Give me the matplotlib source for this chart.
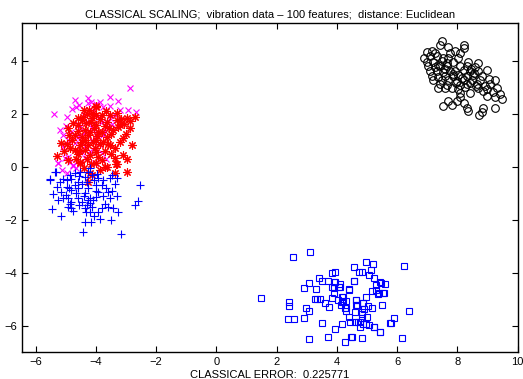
import matplotlib
matplotlib.use('Agg')
import matplotlib.pyplot as plt
import numpy as np

plt.rcParams['font.family'] = ['Liberation Sans', 'DejaVu Sans']

# blue squares (lower right cluster)
sq_x = [2.53, 3.11, 1.47, 2.41, 2.41, 2.91, 3.06, 3.30, 3.39, 3.50, 3.69, 3.85, 3.33, 3.44, 3.59,
        3.75, 2.97, 3.08, 2.91, 2.39, 2.56, 3.52, 3.92, 3.72, 3.06, 3.89, 3.89, 3.89, 3.85,
        4.96, 5.19, 6.21, 4.55, 4.72, 4.83, 5.14, 5.05, 5.22, 4.57, 5.44, 5.58, 5.29, 4.39, 4.11,
        5.16, 5.36, 5.55, 4.97, 4.16, 4.20, 4.64, 4.66, 4.86, 5.02, 5.16, 5.49, 4.91, 4.31, 4.61,
        6.38, 4.83, 4.39, 4.83, 4.99, 5.88, 5.77, 4.42, 4.69, 4.86, 5.08, 4.77, 5.22, 4.16, 5.44,
        4.50, 4.83, 6.16, 3.94, 3.94, 4.28, 4.47, 5.42, 4.20, 4.16, 4.31, 4.03, 4.12, 4.28, 4.30,
        4.64, 4.64, 4.85, 4.83, 4.61, 4.77, 4.96, 5.22, 3.28, 3.83, 4.11, 4.08, 4.39, 4.58, 5.29,
        5.47, 5.38, 5.52, 5.80]
sq_y = [-3.40, -3.20, -4.93, -5.08, -5.25, -4.55, -4.39, -4.62, -4.18, -4.30, -4.30, -3.99, -4.96, -4.96, -5.12,
        -5.27, -5.33, -5.43, -5.69, -5.75, -5.74, -5.90, -6.12, -6.40, -6.47, -4.33, -4.58, -4.77, -4.93,
        -3.57, -3.65, -3.72, -3.77, -3.95, -3.97, -3.89, -4.08, -4.18, -4.29, -4.33, -4.42, -4.45, -4.62, -4.52,
        -4.67, -4.79, -4.77, -4.89, -4.89, -5.06, -5.02, -5.21, -5.14, -5.25, -5.33, -5.21, -5.36, -5.33, -5.46,
        -5.42, -5.56, -5.67, -5.71, -5.65, -5.69, -5.89, -5.84, -5.86, -5.94, -5.96, -6.03, -6.03, -5.92, -6.24,
        -6.40, -6.44, -6.44, -3.95, -4.33, -6.59, -6.40, -6.24, -4.89, -5.08, -5.06, -5.02, -5.21, -5.33, -5.42,
        -5.02, -5.21, -5.14, -5.48, -5.84, -5.84, -5.92, -6.03, -4.96, -4.52, -4.43, -4.52, -4.64, -4.29, -4.64,
        -4.37, -4.77, -4.77, -5.87]

# black circles (upper right cluster)
ci_x = [7.48, 7.42, 7.70, 8.20, 8.23, 6.98, 7.14, 7.25, 7.75, 7.92, 8.09, 6.89, 7.09, 7.31, 7.53,
        7.70, 8.03, 6.98, 7.20, 7.48, 7.86, 8.36, 8.69, 7.03, 7.25, 7.42, 7.64, 8.09, 8.31, 8.58,
        7.09, 7.31, 7.53, 7.75, 7.92, 8.20, 8.42, 8.69, 8.97, 7.14, 7.36, 7.59, 7.86, 8.03, 8.31,
        8.53, 8.80, 7.20, 7.48, 7.70, 7.97, 8.20, 8.47, 8.75, 9.03, 9.25, 7.42, 7.64, 8.09, 8.31,
        8.64, 8.92, 9.08, 7.36, 7.59, 7.81, 8.03, 8.69, 8.97, 9.30, 8.09, 8.42, 9.19, 9.41, 8.97,
        9.25, 9.47, 8.09, 7.97, 7.70, 8.20, 8.31, 7.81, 7.51, 8.36, 8.86, 8.80, 8.73, 9.25,
        7.60, 7.85, 8.15, 8.40, 8.55, 7.35, 7.95, 8.25, 8.60, 8.85, 7.65, 8.45]
ci_y = [4.74, 4.59, 4.52, 4.59, 4.47, 4.34, 4.37, 4.30, 4.30, 4.37, 4.30, 4.11, 4.18, 4.18, 4.11,
        4.09, 4.09, 3.96, 3.96, 3.99, 3.96, 3.96, 3.92, 3.80, 3.76, 3.80, 3.80, 3.80, 3.80, 3.76,
        3.61, 3.61, 3.57, 3.61, 3.61, 3.64, 3.61, 3.61, 3.64, 3.42, 3.38, 3.42, 3.42, 3.46, 3.42,
        3.46, 3.42, 3.26, 3.26, 3.26, 3.23, 3.26, 3.26, 3.26, 3.30, 3.26, 3.11, 3.08, 3.08, 3.11,
        3.11, 3.04, 3.11, 2.96, 2.96, 2.98, 2.92, 2.98, 2.92, 2.98, 2.79, 2.79, 2.83, 2.73, 2.67,
        2.63, 2.57, 2.63, 2.48, 2.48, 2.41, 2.23, 2.35, 2.31, 2.10, 2.23, 2.07, 1.95, 2.23,
        3.70, 3.50, 3.35, 3.15, 3.55, 3.85, 3.15, 3.00, 3.05, 2.85, 3.90, 3.70]

# magenta crosses
mx_x = [-2.87, -4.70, -4.25, -3.53, -3.26, -4.67, -4.25, -3.98, -3.75, -3.53, -2.92, -2.68, -5.38,
        -4.94, -3.37, -3.53, -5.19, -5.08, -4.81, -4.14, -3.75, -4.92, -4.59, -4.14, -4.92, -5.03,
        -5.27, -4.75, -4.03, -4.47, -4.36, -4.03, -3.81, -4.25, -3.81, -3.64, -4.53, -5.27, -5.12,
        -4.94, -4.77,
        -4.40, -4.10, -3.90, -4.60, -4.35, -3.70, -4.00, -4.70, -4.20, -3.90, -4.50, -3.45,
        -3.20, -4.80, -4.55, -3.85, -4.15, -5.00, -4.85, -4.65, -4.35, -3.65, -5.10, -4.05]
mx_y = [2.99, 2.53, 2.59, 2.62, 2.49, 2.24, 2.40, 2.36, 2.24, 2.28, 2.15, 2.06, 1.99,
        1.87, 1.96, 1.84, 1.40, 1.21, 1.33, 1.46, 1.21, 1.02, 1.14, 1.02, 0.39, 0.33,
        0.14, 0.08, 0.14, 0.58, 0.77, 0.70, 0.52, 1.71, 1.71, 1.52, 1.52, 0.14, -0.11,
        -0.24, 0.04,
        1.95, 2.10, 1.90, 1.60, 1.30, 1.35, 1.25, 0.90, 0.60, 0.85, 1.15, 1.60,
        2.15, 2.20, 2.35, 2.45, 2.45, 1.55, 0.20, -0.05, 0.35, 0.30, 0.75, 1.60]

# red asterisks
st_x = [-4.38, -4.23, -4.01, -3.98, -4.59, -4.42, -4.09, -3.81, -3.53, -3.31, -2.98, -2.87, -2.70,
        -4.59, -4.31, -3.98, -3.64, -3.26, -3.42, -3.92, -4.20, -4.47, -4.70, -3.64, -3.09, -3.98,
        -5.14, -4.97, -4.53, -4.25, -3.87, -3.53, -2.81, -4.70, -4.36, -4.03, -3.37, -5.30, -4.59,
        -4.20, -3.92, -3.09, -3.37, -4.92, -4.53, -3.98, -3.31, -3.64, -4.36, -4.92, -4.14, -3.20,
        -4.53, -4.20, -4.14, -3.70, -3.34, -3.37, -2.96, -4.25,
        -4.45, -4.15, -3.85, -3.70, -4.05, -4.35, -4.60, -3.80, -3.50, -4.25, -3.95, -4.10, -3.75,
        -4.45, -4.80, -4.85, -4.00, -3.70, -4.30, -3.80, -4.65, -3.50, -3.20, -3.00, -3.30, -3.65,
        -4.30, -4.75, -4.90, -5.05, -4.15, -3.85, -4.40, -3.55, -3.15, -4.00, -4.55, -3.60,
        -2.85, -2.95, -3.05]
st_y = [2.15, 2.15, 2.31, 2.24, 1.84, 1.90, 2.02, 1.96, 1.94, 1.77, 1.84, 1.74, 1.90,
        1.58, 1.65, 1.58, 1.71, 1.52, 1.40, 1.33, 1.33, 1.14, 1.21, 1.14, 1.08, 1.02,
        0.89, 0.85, 0.83, 0.83, 0.85, 0.83, 0.83, 0.64, 0.64, 0.70, 0.70, 0.43, 0.48,
        0.45, 0.39, 0.45, 0.33, 0.26, 0.18, 0.14, 0.10, 0.01, 1.02, 1.46, 1.84, 1.58,
        0.16, -0.24, -0.30, -0.01, 0.11, -0.24, -0.21, -0.55,
        1.75, 1.70, 1.80, 1.55, 1.45, 1.40, 1.35, 1.30, 1.25, 1.20, 1.15, 0.95, 0.95,
        0.95, 1.00, 0.70, 0.55, 0.60, 0.30, 0.25, 0.30, 0.50, 0.95, 1.25, 2.05, 2.10,
        2.00, 1.65, 1.20, 0.60, 0.10, -0.10, -0.05, 1.45, 1.80, 1.95, 0.60, 0.85,
        1.45, 0.30, 1.60]

# blue plus signs
pl_x = [-5.53, -5.34, -5.08, -4.94, -4.81, -4.70, -4.53, -4.36, -4.20, -4.14, -3.92, -3.75, -3.53,
        -3.31, -5.30, -4.97, -4.81, -4.59, -4.25, -3.98, -3.81, -3.37, -2.54, -5.42, -5.14, -4.92,
        -4.59, -4.36, -4.20, -3.92, -3.59, -3.53, -5.08, -4.81, -4.47, -4.20, -3.70, -3.81, -3.42,
        -2.59, -2.70, -5.47, -4.92, -4.81, -4.36, -4.20, -4.31, -3.92, -3.26, -5.14, -3.48, -4.36,
        -4.17, -4.44, -3.15, -4.25, -4.14, -5.31, -5.53,
        -4.85, -4.60, -4.45, -4.70, -4.30, -4.05, -4.00, -4.40, -4.65, -4.90, -5.20, -4.10, -4.30,
        -4.55, -4.00, -3.75, -3.65, -4.85, -5.00, -4.25, -3.95, -4.55, -3.45, -4.75, -3.60, -3.30,
        -5.25, -4.05, -3.85, -3.45]
pl_y = [-0.49, -0.20, -0.45, -0.49, -0.45, -0.24, -0.18, -0.37, -0.05, -0.30, -0.43, -0.49, -0.43,
        -0.43, -0.74, -0.74, -0.87, -0.81, -0.81, -0.70, -0.70, -0.65, -0.68, -1.03, -0.93, -1.18,
        -1.18, -0.99, -1.18, -0.93, -0.96, -1.16, -1.18, -1.31, -1.31, -1.37, -1.41, -1.56, -1.56,
        -1.28, -1.43, -1.60, -1.50, -1.56, -1.56, -1.69, -1.69, -1.69, -1.69, -1.84, -2.00, -2.06,
        -2.06, -2.44, -2.54, -1.25, -1.50, -0.21, -0.47,
        -0.30, -0.55, -0.65, -0.70, -0.55, -0.50, -0.90, -1.10, -1.00, -0.80, -0.55, -1.25, -1.45,
        -1.45, -1.15, -1.10, -0.80, -1.40, -1.05, -0.20, -0.25, -0.35, -0.90, -1.65, -1.50, -1.10,
        -1.25, -1.85, -1.95, -0.30]

x_ticks = [-6, -4, -2, 0, 2, 4, 6, 8, 10]
y_ticks = [-6, -4, -2, 0, 2, 4]
error_value = 0.225771

fig = plt.figure(figsize=(5.23, 3.79), dpi=100)
ax = fig.add_axes([0.042, 0.071, 0.948, 0.868])

lw = 0.8
ax.plot(mx_x, mx_y, 'x', color=(1, 0, 1), markersize=5, markeredgewidth=lw)
ax.plot(st_x, st_y, linestyle='none', marker=(8, 2, 0), color=(1, 0, 0), markersize=6, markeredgewidth=lw)
ax.plot(pl_x, pl_y, '+', color=(0, 0, 1), markersize=6, markeredgewidth=lw)
ax.plot(sq_x, sq_y, 's', markerfacecolor='none', markeredgecolor=(0, 0, 1), markersize=4.5, markeredgewidth=lw)
ax.plot(ci_x, ci_y, 'o', markerfacecolor='none', markeredgecolor='k', markersize=5.5, markeredgewidth=lw)

ax.set_xlim(-6.45, 10)
ax.set_ylim(-6.98, 5.42)
ax.set_xticks(x_ticks)
ax.set_yticks(y_ticks)
ax.set_xticklabels(['\u2212' + str(-t) if t < 0 else str(t) for t in x_ticks])
ax.set_yticklabels(['\u2212' + str(-t) if t < 0 else str(t) for t in y_ticks])
ax.tick_params(direction='in', top=True, right=True, labelsize=8, length=4, width=0.8)
for s in ax.spines.values():
    s.set_linewidth(1.0)

ax.set_title('CLASSICAL SCALING;  vibration data \u2013 100 features;  distance: Euclidean', fontsize=8, pad=4)
ax.set_xlabel('CLASSICAL ERROR:  %g' % error_value, fontsize=8, labelpad=2)

fig.savefig('out.png', dpi=100)
